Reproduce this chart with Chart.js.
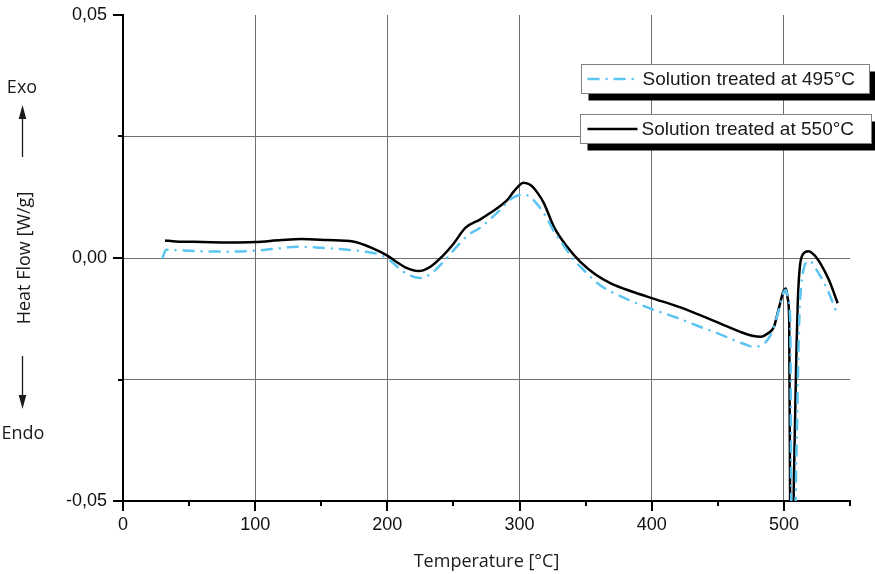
<!DOCTYPE html>
<html>
<head>
<meta charset="utf-8">
<script src="https://cdn.jsdelivr.net/npm/chart.js@4/dist/chart.umd.min.js"></script>
<style>
  html, body { margin: 0; padding: 0; background: #fff; }
  #wrap { width: 875px; height: 574px; }
</style>
</head>
<body>
<div id="wrap"><canvas id="dsc" width="875" height="574"></canvas></div>
<script>
// DSC heat-flow curves for the two solution treatments
const seriesLabels = ['Solution treated at 495°C', 'Solution treated at 550°C'];

const temp495 = [30, 32.6, 40, 60, 80, 100, 115, 132, 150, 174, 186, 195, 202, 212, 225, 234, 245, 253, 261, 270, 283, 295, 302, 306, 312, 320, 326, 333, 341, 346, 361, 380, 399, 418, 437, 450, 462, 470, 477.5, 485, 489, 492.4, 496.5, 499.5, 501.5, 503.3, 504.8, 505.8, 507.5, 509.5, 511.6, 513.2, 515.4, 519.2, 525.5, 533, 540.7];
const flow495 = [0.0001, 0.0017, 0.0016, 0.0014, 0.0013, 0.0015, 0.0019, 0.0023, 0.0021, 0.0016, 0.0012, 0.0006, -0.0005, -0.0028, -0.0041, -0.0030, 0.0000, 0.0025, 0.0047, 0.0062, 0.0093, 0.0124, 0.0130, 0.0129, 0.0115, 0.0085, 0.0055, 0.0027, -0.0004, -0.0018, -0.0056, -0.0083, -0.0104, -0.0122, -0.0142, -0.0155, -0.0169, -0.0177, -0.0183, -0.0176, -0.0163, -0.0142, -0.0103, -0.0073, -0.0066, -0.0085, -0.0130, -0.0600, -0.0660, -0.0400, -0.0128, -0.0055, -0.0018, -0.0006, -0.0028, -0.0066, -0.0118];

const temp550 = [31.8, 40, 60, 80, 100, 120, 135, 155, 174, 189, 200, 204.8, 214.9, 223.5, 232.6, 241.4, 250.2, 259, 270, 278, 291, 295.7, 303, 308.3, 313.6, 318.4, 326, 336, 346, 358, 369, 385, 400.5, 420, 437, 452, 467, 476, 482.6, 488, 492.4, 496.5, 499.5, 501.5, 503, 504, 504.9, 506.2, 507.6, 509.4, 510.5, 512, 514.5, 518.5, 523, 528, 534, 540.7];
const flow550 = [0.0036, 0.0034, 0.0033, 0.0032, 0.0033, 0.0037, 0.0039, 0.0037, 0.0034, 0.0020, 0.0005, -0.0004, -0.0021, -0.0027, -0.0018, 0.0003, 0.0030, 0.0062, 0.0079, 0.0093, 0.0120, 0.0137, 0.0155, 0.0150, 0.0134, 0.0113, 0.0064, 0.0023, -0.0008, -0.0035, -0.0052, -0.0069, -0.0083, -0.0100, -0.0118, -0.0135, -0.0152, -0.0160, -0.0162, -0.0155, -0.0142, -0.0100, -0.0070, -0.0063, -0.0085, -0.0128, -0.0600, -0.0660, -0.0450, -0.0200, -0.0090, -0.0020, 0.0008, 0.0014, 0.0006, -0.0013, -0.0045, -0.0093];

const xTickLabels = [0, 100, 200, 300, 400, 500];
const yTickLabels = [-0.05, 0, 0.05];

const BLUE = '#5bc5f2';
const GRID = '#6f6f6f';
const INK = '#1a1a1a';
const SANS = '"Liberation Sans", Arial, sans-serif';
const TITLE_FONT = '"Open Sans", "Noto Sans", sans-serif';

const toPoints = (xs, ys) => xs.map((t, i) => ({ x: t, y: ys[i] }));
const isLabelledY = v => yTickLabels.some(t => Math.abs(t - v) < 1e-9);
const isLabelledX = v => xTickLabels.includes(Math.round(v));

// Tick marks, Exo/Endo arrows and the boxed legend
const decorations = {
  id: 'decorations',
  afterDraw(chart) {
    const { ctx, chartArea: area, scales: { x, y } } = chart;
    ctx.save();

    // outward tick marks
    ctx.strokeStyle = '#000';
    ctx.lineWidth = 2;
    ctx.beginPath();
    x.ticks.forEach(t => {
      const px = Math.round(x.getPixelForValue(t.value));
      const len = isLabelledX(t.value) ? 10 : 5;
      ctx.moveTo(px, area.bottom);
      ctx.lineTo(px, area.bottom + len);
    });
    y.ticks.forEach(t => {
      const py = Math.round(y.getPixelForValue(t.value));
      const len = isLabelledY(t.value) ? 10 : 5;
      ctx.moveTo(area.left, py);
      ctx.lineTo(area.left - len, py);
    });
    ctx.stroke();

    // Exo / Endo direction arrows
    ctx.fillStyle = INK;
    ctx.strokeStyle = INK;
    ctx.lineWidth = 1.3;
    const ax = 22.5;
    ctx.beginPath();
    ctx.moveTo(ax, 157); ctx.lineTo(ax, 116);
    ctx.moveTo(ax, 356); ctx.lineTo(ax, 397);
    ctx.stroke();
    ctx.beginPath();
    ctx.moveTo(ax, 105); ctx.lineTo(ax - 3.8, 119); ctx.lineTo(ax + 3.8, 119); ctx.closePath();
    ctx.moveTo(ax, 409); ctx.lineTo(ax - 3.8, 395); ctx.lineTo(ax + 3.8, 395); ctx.closePath();
    ctx.fill();

    ctx.font = '18px ' + TITLE_FONT;
    ctx.textAlign = 'center';
    ctx.textBaseline = 'middle';
    ctx.fillText('Exo', 22, 88);
    ctx.fillText('Endo', 23, 434);

    // legend boxes with drop shadows
    const boxes = [
      { x: 581.5, y: 64.5, w: 288, h: 29, ds: 0 },
      { x: 580.5, y: 114.5, w: 291, h: 29, ds: 1 }
    ];
    boxes.forEach(b => {
      const ds = chart.data.datasets[b.ds];
      ctx.fillStyle = '#000';
      ctx.fillRect(b.x + 7, b.y + 7, b.w, b.h);
      ctx.fillStyle = '#fff';
      ctx.fillRect(b.x, b.y, b.w, b.h);
      ctx.strokeStyle = '#808080';
      ctx.lineWidth = 1;
      ctx.strokeRect(b.x, b.y, b.w, b.h);

      const cy = b.y + b.h / 2;
      ctx.strokeStyle = ds.borderColor;
      ctx.lineWidth = 2.5;
      ctx.lineCap = ds.borderCapStyle || 'butt';
      ctx.setLineDash(ds.borderDash || []);
      ctx.beginPath();
      ctx.moveTo(b.x + 7, cy);
      ctx.lineTo(b.x + 57, cy);
      ctx.stroke();
      ctx.setLineDash([]);
      ctx.lineCap = 'butt';

      ctx.fillStyle = INK;
      ctx.font = '19px ' + SANS;
      ctx.textAlign = 'left';
      ctx.textBaseline = 'middle';
      ctx.fillText(ds.label, b.x + 61, cy + 0.5);
    });

    ctx.restore();
  }
};

new Chart(document.getElementById('dsc'), {
  type: 'line',
  data: {
    datasets: [
      {
        label: seriesLabels[0],
        data: toPoints(temp495, flow495),
        borderColor: BLUE,
        borderWidth: 2.5,
        borderDash: [10, 8, 0.1, 8],
        borderCapStyle: 'round',
        pointRadius: 0,
        cubicInterpolationMode: 'monotone',
        fill: false
      },
      {
        label: seriesLabels[1],
        data: toPoints(temp550, flow550),
        borderColor: '#000',
        borderWidth: 2.5,
        pointRadius: 0,
        cubicInterpolationMode: 'monotone',
        fill: false
      }
    ]
  },
  options: {
    responsive: false,
    animation: false,
    devicePixelRatio: 1,
    layout: { padding: { top: 15, right: 25, left: 0, bottom: 0 } },
    plugins: { legend: { display: false }, tooltip: { enabled: false } },
    scales: {
      x: {
        type: 'linear',
        min: 0,
        max: 550,
        afterFit: s => { s.height = 73; s.paddingLeft = 0; s.paddingRight = 0; },
        ticks: {
          stepSize: 50,
          autoSkip: false,
          maxRotation: 0,
          padding: 13,
          color: '#111',
          font: { family: SANS, size: 18 },
          callback: v => (isLabelledX(v) ? String(v) : '')
        },
        grid: {
          drawTicks: false,
          lineWidth: 1,
          color: c => {
            const v = c.tick ? c.tick.value : 0;
            return (isLabelledX(v) && v > 0) ? GRID : 'rgba(0,0,0,0)';
          }
        },
        border: { display: true, color: '#000', width: 2 },
        title: {
          display: true,
          text: 'Temperature [°C]',
          color: INK,
          font: { family: TITLE_FONT, size: 18 },
          padding: { top: 0, bottom: 1 }
        }
      },
      y: {
        type: 'linear',
        min: -0.05,
        max: 0.05,
        afterFit: s => { s.width = 123; s.paddingTop = 0; s.paddingBottom = 0; },
        ticks: {
          stepSize: 0.025,
          autoSkip: false,
          padding: 16,
          color: '#111',
          font: { family: SANS, size: 18 },
          callback: v => (isLabelledY(v) ? v.toFixed(2).replace('.', ',') : '')
        },
        grid: {
          drawTicks: false,
          lineWidth: 1,
          color: c => {
            const v = c.tick ? c.tick.value : 0;
            return (Math.abs(Math.abs(v) - 0.05) < 1e-9) ? 'rgba(0,0,0,0)' : GRID;
          }
        },
        border: { display: true, color: '#000', width: 2 },
        title: {
          display: true,
          text: 'Heat Flow [W/g]',
          color: INK,
          font: { family: TITLE_FONT, size: 18 },
          padding: { top: 14, bottom: 0 }
        }
      }
    }
  },
  plugins: [decorations]
});
</script>
</body>
</html>
